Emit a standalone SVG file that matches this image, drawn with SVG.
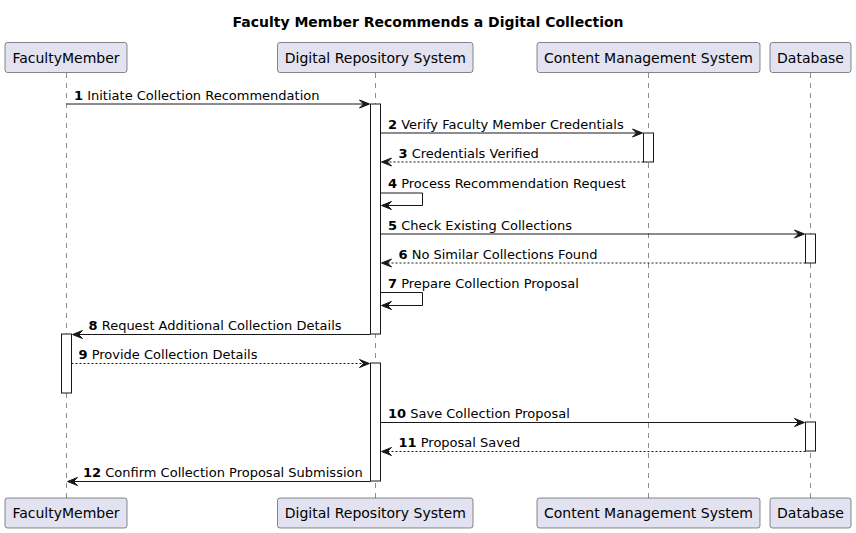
<svg xmlns="http://www.w3.org/2000/svg" width="856" height="533" viewBox="0 0 856 533">
<style>
.bg{fill:#FFFFFF}
.part{fill:#E2E2F0;stroke:#181818;stroke-width:0.5}
.ptxt{font-family:"DejaVu Sans",sans-serif;font-size:14px;fill:#000000;text-anchor:middle}
.life{stroke:#181818;stroke-width:0.5;stroke-dasharray:5,5;fill:none}
.act{fill:#FFFFFF;stroke:#181818;stroke-width:1}
.msg{stroke:#181818;stroke-width:1;fill:none}
.ret{stroke:#181818;stroke-width:1;fill:none;stroke-dasharray:2,2}
.head{fill:#181818;stroke:#181818;stroke-width:1}
.mtxt{font-family:"DejaVu Sans",sans-serif;font-size:13px;fill:#000000}
.num{font-weight:bold}
.title{font-family:"DejaVu Sans",sans-serif;font-size:14px;font-weight:bold;fill:#000000;text-anchor:middle}
</style>
<rect class="bg" x="0" y="0" width="856" height="533"/>
<text class="title" x="428" y="27">Faculty Member Recommends a Digital Collection</text>

<g id="lifelines">
<line class="life" x1="66.5" y1="73" x2="66.5" y2="498"/>
<line class="life" x1="375.5" y1="73" x2="375.5" y2="498"/>
<line class="life" x1="648.5" y1="73" x2="648.5" y2="498"/>
<line class="life" x1="810.5" y1="73" x2="810.5" y2="498"/>
</g>

<g id="FacultyMember">
<rect class="part" x="5" y="42.5" width="122" height="30" rx="2.5"/>
<text class="ptxt" x="66" y="62.5">FacultyMember</text>
<rect class="part" x="5" y="498" width="122" height="30" rx="2.5"/>
<text class="ptxt" x="66" y="518">FacultyMember</text>
<rect class="act" x="61.5" y="334" width="10" height="59"/>
</g>

<g id="DigitalRepositorySystem">
<rect class="part" x="277.5" y="42.5" width="195.5" height="30" rx="2.5"/>
<text class="ptxt" x="375.3" y="62.5">Digital Repository System</text>
<rect class="part" x="277.5" y="498" width="195.5" height="30" rx="2.5"/>
<text class="ptxt" x="375.3" y="518">Digital Repository System</text>
<rect class="act" x="370.5" y="104" width="10" height="230"/>
<rect class="act" x="370.5" y="363" width="10" height="118"/>
</g>

<g id="ContentManagementSystem">
<rect class="part" x="537" y="42.5" width="223" height="30" rx="2.5"/>
<text class="ptxt" x="648.5" y="62.5">Content Management System</text>
<rect class="part" x="537" y="498" width="223" height="30" rx="2.5"/>
<text class="ptxt" x="648.5" y="518">Content Management System</text>
<rect class="act" x="643.5" y="133" width="10" height="29"/>
</g>

<g id="Database">
<rect class="part" x="770" y="42.5" width="81" height="30" rx="2.5"/>
<text class="ptxt" x="810.5" y="62.5">Database</text>
<rect class="part" x="770" y="498" width="81" height="30" rx="2.5"/>
<text class="ptxt" x="810.5" y="518">Database</text>
<rect class="act" x="805.5" y="234" width="10" height="29"/>
<rect class="act" x="805.5" y="422" width="10" height="29"/>
</g>

<g id="connectors">
<!-- 1 -->
<line class="msg" x1="66.5" y1="104" x2="368.5" y2="104"/>
<polygon class="head" points="359.5,100 369.5,104 359.5,108 363.5,104"/>
<text class="mtxt" x="74" y="99.5"><tspan class="num">1</tspan> Initiate Collection Recommendation</text>
<!-- 2 -->
<line class="msg" x1="380.5" y1="133" x2="641.5" y2="133"/>
<polygon class="head" points="632.5,129 642.5,133 632.5,137 636.5,133"/>
<text class="mtxt" x="388" y="128.5"><tspan class="num">2</tspan> Verify Faculty Member Credentials</text>
<!-- 3 -->
<line class="ret" x1="643.5" y1="162" x2="382.5" y2="162"/>
<polygon class="head" points="391.5,158 381.5,162 391.5,166 387.5,162"/>
<text class="mtxt" x="398.5" y="157.5"><tspan class="num">3</tspan> Credentials Verified</text>
<!-- 4 -->
<polyline class="msg" points="380.5,193 422.5,193 422.5,205.5 382.5,205.5"/>
<polygon class="head" points="391.5,201.5 381.5,205.5 391.5,209.5 387.5,205.5"/>
<text class="mtxt" x="388" y="187.5"><tspan class="num">4</tspan> Process Recommendation Request</text>
<!-- 5 -->
<line class="msg" x1="380.5" y1="234" x2="803.5" y2="234"/>
<polygon class="head" points="794.5,230 804.5,234 794.5,238 798.5,234"/>
<text class="mtxt" x="388" y="229.5"><tspan class="num">5</tspan> Check Existing Collections</text>
<!-- 6 -->
<line class="ret" x1="805.5" y1="263" x2="382.5" y2="263"/>
<polygon class="head" points="391.5,259 381.5,263 391.5,267 387.5,263"/>
<text class="mtxt" x="398.5" y="258.5"><tspan class="num">6</tspan> No Similar Collections Found</text>
<!-- 7 -->
<polyline class="msg" points="380.5,292.5 422.5,292.5 422.5,305.5 382.5,305.5"/>
<polygon class="head" points="391.5,301.5 381.5,305.5 391.5,309.5 387.5,305.5"/>
<text class="mtxt" x="388" y="287.5"><tspan class="num">7</tspan> Prepare Collection Proposal</text>
<!-- 8 -->
<line class="msg" x1="370.5" y1="334.5" x2="73.5" y2="334.5"/>
<polygon class="head" points="82.5,330.5 72.5,334.5 82.5,338.5 78.5,334.5"/>
<text class="mtxt" x="88.5" y="329.5"><tspan class="num">8</tspan> Request Additional Collection Details</text>
<!-- 9 -->
<line class="ret" x1="71.5" y1="363.5" x2="368.5" y2="363.5"/>
<polygon class="head" points="359.5,359.5 369.5,363.5 359.5,367.5 363.5,363.5"/>
<text class="mtxt" x="78.5" y="358.5"><tspan class="num">9</tspan> Provide Collection Details</text>
<!-- 10 -->
<line class="msg" x1="380.5" y1="422.5" x2="803.5" y2="422.5"/>
<polygon class="head" points="794.5,418.5 804.5,422.5 794.5,426.5 798.5,422.5"/>
<text class="mtxt" x="388" y="417.5"><tspan class="num">10</tspan> Save Collection Proposal</text>
<!-- 11 -->
<line class="ret" x1="805.5" y1="451.5" x2="382.5" y2="451.5"/>
<polygon class="head" points="391.5,447.5 381.5,451.5 391.5,455.5 387.5,451.5"/>
<text class="mtxt" x="398.5" y="446.5"><tspan class="num">11</tspan> Proposal Saved</text>
<!-- 12 -->
<line class="msg" x1="370.5" y1="481.5" x2="68.5" y2="481.5"/>
<polygon class="head" points="77.5,477.5 67.5,481.5 77.5,485.5 73.5,481.5"/>
<text class="mtxt" x="83" y="476.5"><tspan class="num">12</tspan> Confirm Collection Proposal Submission</text>
</g>
</svg>
